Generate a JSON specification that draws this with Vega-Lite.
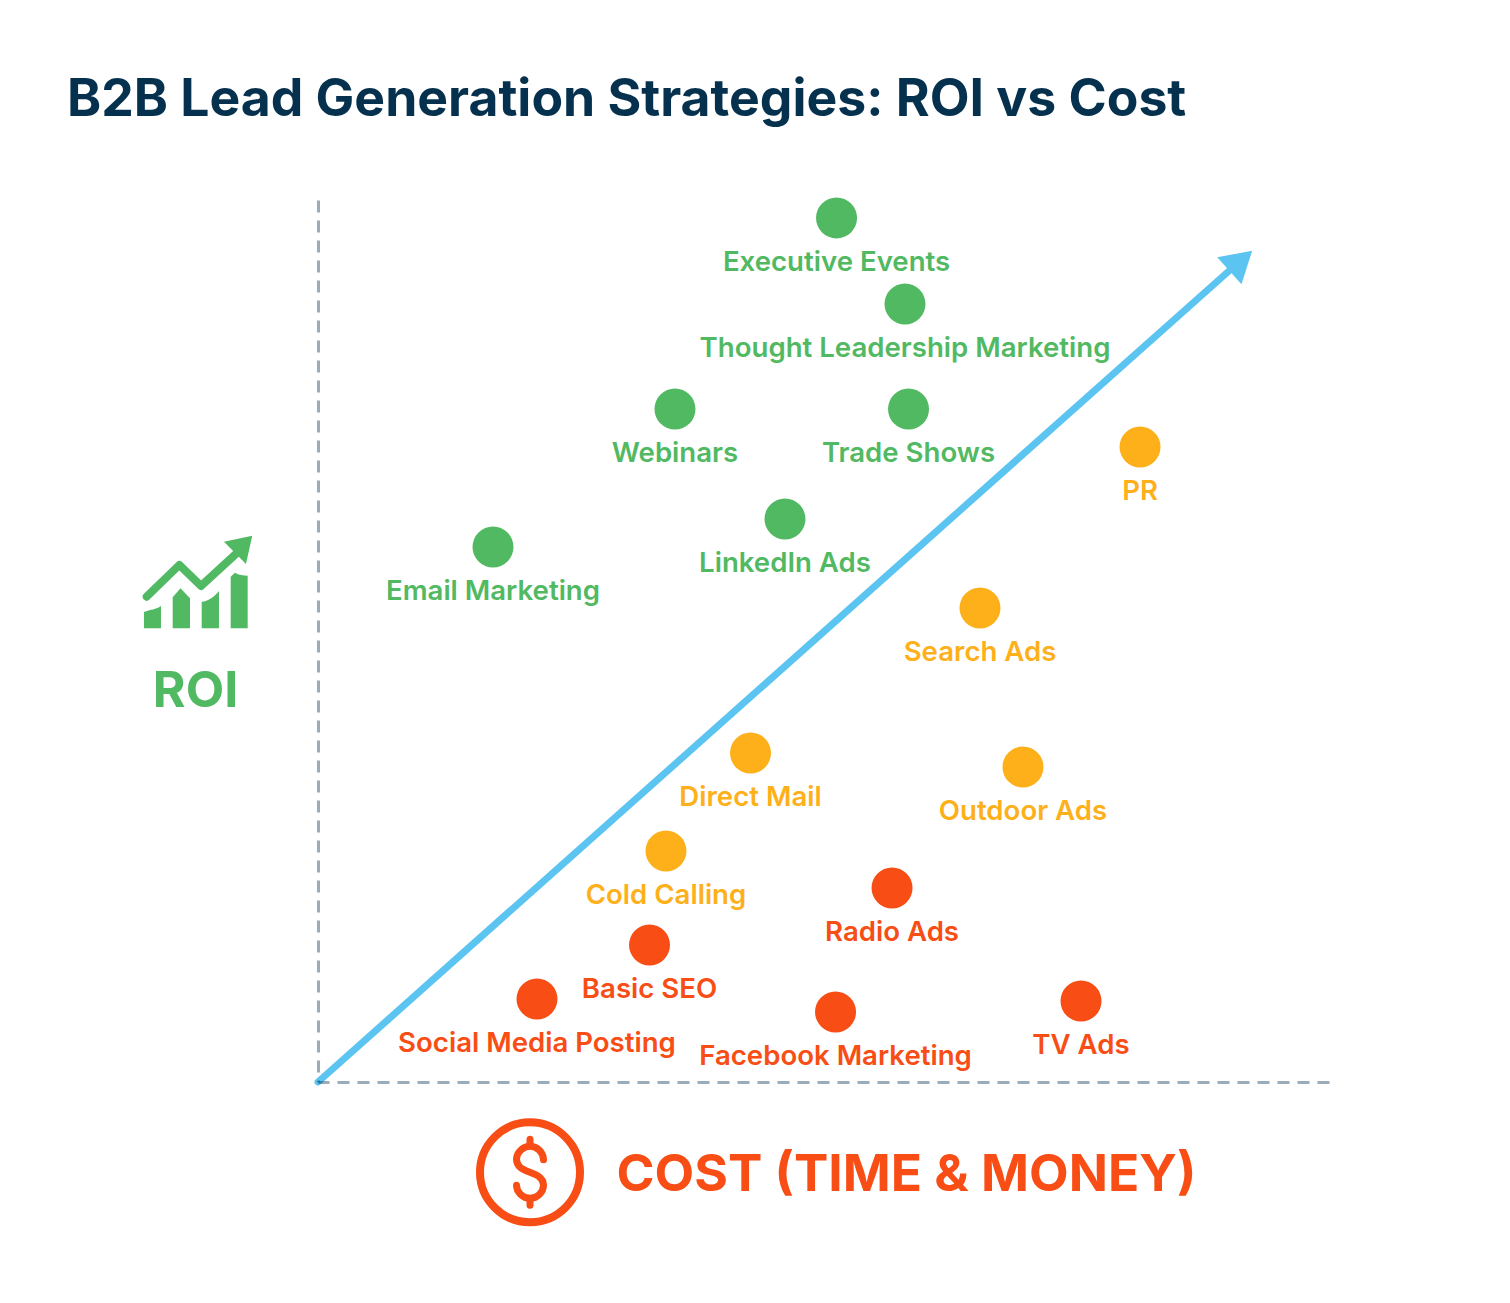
{
"$schema":"https://vega.github.io/schema/vega-lite/v6.json",
"width":1011,"height":882,
"autosize":"none",
"padding":{"left":318,"top":200,"right":181,"bottom":221},
"background":"#ffffff",
"view":{"stroke":null},
"title":{"text":"B2B Lead Generation Strategies: ROI vs Cost","anchor":"start","frame":"group","dx":-251,"offset":71,"font":"Inter","fontSize":51.7,"fontWeight":700,"color":"#05304E"},
"datasets":{
"strategies":[
{"name":"Executive Events","cost":51.29,"roi":97.97,"tier":"high"},
{"name":"Thought Leadership Marketing","cost":58.06,"roi":88.21,"tier":"high"},
{"name":"Webinars","cost":35.31,"roi":76.30,"tier":"high"},
{"name":"Trade Shows","cost":58.41,"roi":76.30,"tier":"high"},
{"name":"LinkedIn Ads","cost":46.19,"roi":63.83,"tier":"high"},
{"name":"Email Marketing","cost":17.31,"roi":60.66,"tier":"high"},
{"name":"PR","cost":81.31,"roi":72.0,"tier":"mid"},
{"name":"Search Ads","cost":65.48,"roi":53.74,"tier":"mid"},
{"name":"Direct Mail","cost":42.78,"roi":37.30,"tier":"mid"},
{"name":"Outdoor Ads","cost":69.73,"roi":35.71,"tier":"mid"},
{"name":"Cold Calling","cost":34.42,"roi":26.19,"tier":"mid"},
{"name":"Radio Ads","cost":56.78,"roi":22.0,"tier":"low"},
{"name":"Basic SEO","cost":32.79,"roi":15.53,"tier":"low"},
{"name":"Social Media Posting","cost":21.66,"roi":9.41,"tier":"low"},
{"name":"Facebook Marketing","cost":51.19,"roi":7.94,"tier":"low"},
{"name":"TV Ads","cost":75.47,"roi":9.18,"tier":"low"}
]},
"encoding":{
"x":{"field":"cost","type":"quantitative","scale":{"domain":[0,100],"nice":false},
"axis":{"zindex":1,"grid":false,"ticks":false,"labels":false,"domainColor":"#05304E","domainOpacity":0.4,"domainWidth":3,"domainDash":[12,8],"domainDashOffset":1,"title":"COST (TIME & MONEY)","titleFont":"Inter","titleFontSize":51.5,"titleFontWeight":700,"titleColor":"#F84D14","titleAlign":"left","titleBaseline":"middle","titleX":298,"titleY":93}},
"y":{"field":"roi","type":"quantitative","scale":{"domain":[0,100],"nice":false},
"axis":{"zindex":1,"grid":false,"ticks":false,"labels":false,"domainColor":"#05304E","domainOpacity":0.4,"domainWidth":3,"domainDash":[12,8],"domainDashOffset":10,"title":"ROI","titleFont":"Inter","titleFontSize":50,"titleFontWeight":700,"titleColor":"#52B963","titleAngle":0,"titleAlign":"center","titleBaseline":"middle","titleX":-123,"titleY":491}}
},
"layer":[
{"data":{"values":[{"cost":0,"roi":0},{"cost":90.1,"roi":91.95}]},
 "mark":{"type":"line","color":"#5BC4F1","strokeWidth":7,"strokeCap":"round"}},
{"data":{"values":[{"cost":90.8,"roi":92.63}]},
 "mark":{"type":"point","filled":true,"opacity":1,"size":4,"color":"#5BC4F1","shape":"M16.2,-14.3L-18.8,-7.7L5.5,19.3Z"}},
{"data":{"name":"strategies"},
 "mark":{"type":"point","filled":true,"opacity":1,"size":1681,"shape":"circle"},
 "encoding":{"color":{"field":"tier","type":"nominal","scale":{"domain":["high","mid","low"],"range":["#52B963","#FDB01A","#F84D14"]},"legend":null}}},
{"data":{"name":"strategies"},
 "mark":{"type":"text","font":"Inter","fontSize":27.6,"fontWeight":600,"align":"center","baseline":"middle","dy":45},
 "encoding":{"text":{"field":"name","type":"nominal"},"color":{"field":"tier","type":"nominal","scale":{"domain":["high","mid","low"],"range":["#52B963","#FDB01A","#F84D14"]},"legend":null}}},
{"data":{"values":[{"cost":-12.07,"roi":56.69}]},
 "mark":{"type":"point","filled":true,"opacity":1,"size":4,"color":"#52B963","shape":"M28,-40.3L56.3,-46.3L50,-18ZM-52,30L-46,28C-42,27.5 -38,26 -35,24L-35,46.3L-52,46.3ZM-23.3,15.3L-15.5,6.3L-6,16.3L-6,46.3L-23.3,46.3ZM5.7,19.7C12,19.5 18,15 23,9L23,46.3L5.7,46.3ZM34.7,-5.3L39,-9.3C43,-7 47,-6.5 51.7,-6.3L51.7,46.3L34.7,46.3Z"}},
{"data":{"values":[{"cost":-12.07,"roi":56.69}]},
 "mark":{"type":"point","filled":false,"opacity":1,"size":4,"color":"#52B963","strokeWidth":8,"strokeCap":"round","strokeJoin":"round","shape":"M-49.3,14.7L-16.7,-17L5,4L40.7,-28.7"}},
{"data":{"values":[{"cost":20.97,"roi":-10.24}]},
 "mark":{"type":"point","filled":false,"opacity":1,"size":10000,"color":"#F84D14","strokeWidth":8,"shape":"circle"}},
{"data":{"values":[{"cost":20.97,"roi":-10.24}]},
 "mark":{"type":"point","filled":false,"opacity":1,"size":4,"color":"#F84D14","strokeWidth":7,"strokeCap":"round","strokeJoin":"round","shape":"M13.5,-12.5C13.5,-20 7,-26 0,-26C-7,-26 -13.5,-20 -13.5,-13C-13.5,-6 -8,-3 0,0C8,3 13.5,6 13.5,13C13.5,20 7,26 0,26C-7,26 -13.5,20 -13.5,13M0,-33L0,-26M0,26L0,33"}}
]
}
